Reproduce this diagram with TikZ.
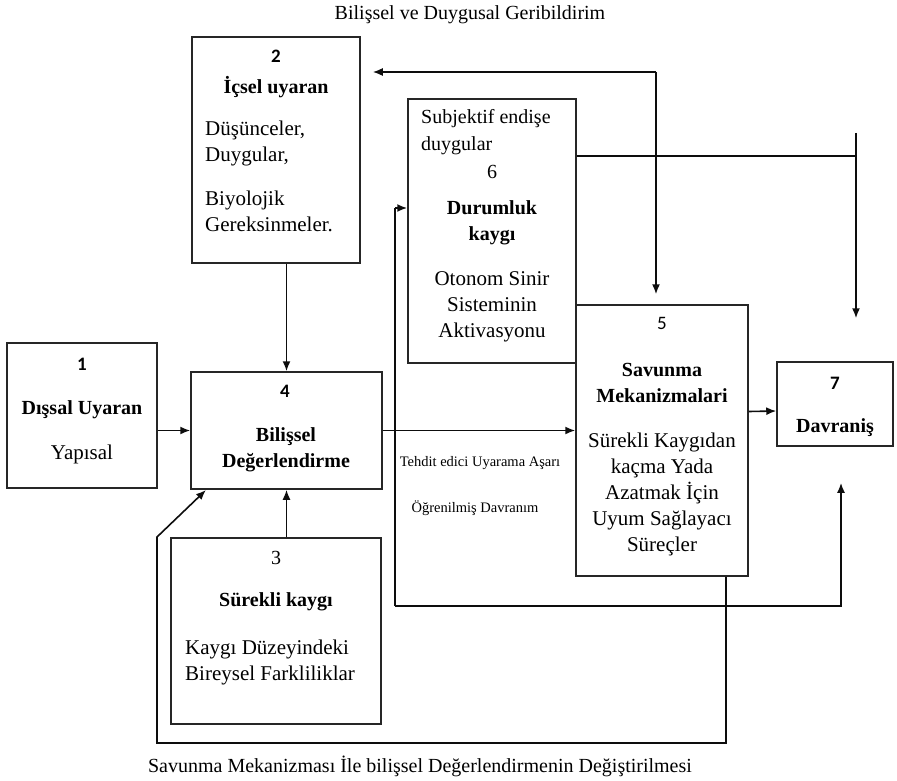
\documentclass[tikz,border=0pt]{standalone}
\usepackage{fontspec}
\setmainfont{Liberation Serif}
\newfontfamily\numfont{Carlito}
\usetikzlibrary{arrows.meta,calc}
\tikzset{
  box/.style={draw=black!85, line width=1.5pt, inner sep=0pt, fill=none},
  txt/.style={inner sep=0pt, font=\fontsize{21}{26}\selectfont, align=center},
  txtl/.style={inner sep=0pt, font=\fontsize{21}{26}\selectfont, align=left, anchor=west},
  txtls/.style={inner sep=0pt, font=\fontsize{20}{27}\selectfont, align=left, anchor=west},
  bld/.style={inner sep=0pt, font=\fontsize{20}{26}\selectfont\bfseries, align=center},
  numb/.style={inner sep=0pt, font=\fontsize{19}{22}\selectfont\numfont\bfseries},
  numr/.style={inner sep=0pt, font=\fontsize{19}{22}\selectfont\numfont},
  nums/.style={inner sep=0pt, font=\fontsize{20}{22}\selectfont},
  small/.style={inner sep=0pt, font=\fontsize{14.5}{17}\selectfont},
  capt/.style={inner sep=0pt, font=\fontsize{20}{24}\selectfont},
  conn/.style={line width=1.6pt, draw=black!95, -{Latex[length=10pt,width=8pt]}},
  line/.style={line width=1.6pt, draw=black!95},
}
\begin{document}
\begin{tikzpicture}[x=1pt,y=-1pt]
\useasboundingbox (0,0) rectangle (897,781);

% boxes
\node[box, minimum width=150pt, minimum height=145pt] (b1) at (82,415.5) {};
\node[box, minimum width=168pt, minimum height=226pt] (b2) at (276,150) {};
\node[box, minimum width=210pt, minimum height=186pt] (b3) at (276,631) {};
\node[box, minimum width=191pt, minimum height=117pt] (b4) at (286.5,430.5) {};
\node[box, minimum width=168pt, minimum height=264pt] (b6) at (492,231) {};
\node[box, minimum width=172pt, minimum height=271pt] (b5) at (662,440.5) {};
\node[box, minimum width=116pt, minimum height=84pt] (b7) at (835,404) {};

% texts box 1
\node[numb] (t1n) at (82,364) {1};
\node[bld] (t1a) at (82,410) {Dışsal Uyaran};
\node[txt] (t1b) at (82,454) {Yapısal};
% box 2
\node[numb] (t2n) at (276,56) {2};
\node[bld] (t2a) at (276,87) {İçsel uyaran};
\node[txtl] (t2b) at (205,143) {Düşünceler,\\Duygular,};
\node[txtl] (t2c) at (205,211) {Biyolojik\\Gereksinmeler.};
% box 3
\node[nums] (t3n) at (276,558) {3};
\node[bld] (t3a) at (276,602) {Sürekli kaygı};
\node[txtl] (t3b) at (185,662) {Kaygı Düzeyindeki\\Bireysel Farkliliklar};
% box 4
\node[numb] (t4n) at (285,391) {4};
\node[bld] (t4a) at (286,450) {Bilişsel\\Değerlendirme};
% box 6
\node[txtls] (t6a) at (421,132) {Subjektif endişe\\duygular};
\node[nums] (t6n) at (492,172) {6};
\node[bld] (t6b) at (492,223) {Durumluk\\kaygı};
\node[txt] (t6c) at (492,307) {Otonom Sinir\\Sisteminin\\Aktivasyonu};
% box 5
\node[numr] (t5n) at (662,323) {5};
\node[bld] (t5a) at (662,383) {Savunma\\Mekanizmalari};
\node[txt] (t5b) at (662,494) {Sürekli Kaygıdan\\kaçma Yada\\Azatmak İçin\\Uyum Sağlayacı\\Süreçler};
% box 7
\node[numb] (t7n) at (835,383) {7};
\node[bld] (t7a) at (835,428) {Davraniş};

% labels
\node[capt] (title) at (470,15) {Bilişsel ve Duygusal Geribildirim};
\node[capt] (bottom) at (420,766) {Savunma Mekanizması İle bilişsel Değerlendirmenin Değiştirilmesi};
\node[small] (lab1) at (480,463) {Tehdit edici Uyarama Aşarı};
\node[small] (lab2) at (475,508) {Öğrenilmiş Davranım};

% helper coordinates
\coordinate (fbtop) at (656,72);
\coordinate (r6) at (856,156);
\coordinate (r6top) at (856,133);
\coordinate (v6) at (395,208);
\coordinate (vbot) at (395,606);
\coordinate (r7) at (841,606);
\coordinate (lp1) at (726,743);
\coordinate (lp2) at (157,743);
\coordinate (lp3) at (157,537);
\coordinate (lp4) at (206,490);

% connectors
\draw[conn] (b1.east |- b4.west) -- (b4.west);
\draw[conn] (b4.north |- b2.south) -- (b4.north);
\draw[conn] (b4.south |- b3.north) -- (b4.south);
\draw[conn] (b4.east) -- (b5.west |- b4.east);
\draw[conn] ($(b5.east)+(0,-29)$) -- ($(b7.west)+(0,7)$);
\draw[conn, shorten >=12pt] (fbtop) -- (b2.east |- fbtop);
\draw[conn, shorten >=10pt] (fbtop) -- (b5.north -| fbtop);
\draw[line] (b6.east |- r6) -- (r6);
\draw[conn, shorten >=43pt] (r6top) -- (b7.north -| r6top);
\draw[line, line width=2.6pt] (vbot) -- (v6);
\draw[conn, line width=1.8pt] (v6) -- (b6.west |- v6);
\draw[conn, line width=1.8pt, shorten >=36pt] (vbot) -- (r7) -- (b7.south -| r7);
\draw[conn] (b5.south -| lp1) -- (lp1) -- (lp2) -- (lp3) -- (lp4);
\end{tikzpicture}
\end{document}
